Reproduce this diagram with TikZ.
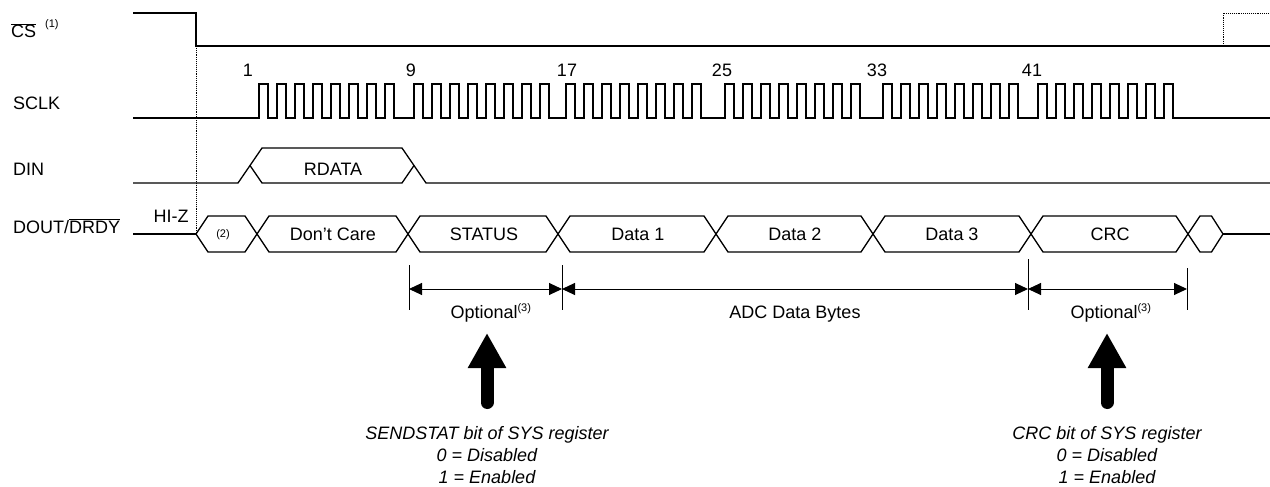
\documentclass[tikz,border=0pt]{standalone}
\usepackage{fontspec}
\setmainfont{Liberation Sans}
\usetikzlibrary{arrows.meta}
\begin{document}
\begin{tikzpicture}[x=1pt,y=-1pt,
  sig/.style={line width=1.3pt, line join=miter},
  lbl/.style={font=\fontsize{18}{22}\selectfont, inner sep=0pt},
  small/.style={font=\fontsize{11}{13}\selectfont, inner sep=0pt},
  note/.style={font=\fontsize{18}{22}\selectfont\itshape, inner sep=0pt, align=center},
  tickline/.style={line width=0.9pt},
  dimline/.style={line width=1pt, {Triangle[length=13pt 0 0,width=12pt 0 0]}-{Triangle[length=13pt 0 0,width=12pt 0 0]}},
  fat/.style={line width=13pt, line cap=round, -{Triangle[length=35pt 0 0,width=36pt 0 0]}},
  dots/.style={line width=0.9pt, densely dotted}]
\useasboundingbox (0,0) rectangle (1270,487);

% ---------- signal names ----------
\node[lbl, anchor=base west] (ncs) at (11,38) {$\overline{\mbox{CS}}$};
\node[small, anchor=base west] (ncsn) at (45,28) {(1)};
\node[lbl, anchor=base west] (nsclk) at (13,110) {SCLK};
\node[lbl, anchor=base west] (ndin) at (13,175) {DIN};
\node[lbl, anchor=base west] (ndout) at (13,233) {DOUT/$\overline{\mbox{DRDY}}$};
\node[lbl, anchor=base] (nhiz) at (171,222) {HI-Z};

% ---------- CS ----------
\draw[sig] (133,13) -- (196,13) -- (196,46) -- (1270,46);
\draw[dots] (1223,46) -- (1223,13) -- (1270,13);
\draw[dots] (196,46) -- (196,234);

% ---------- SCLK ----------
\draw[sig] (133,118) -- (259,118)
  foreach \g in {259,414,566,725,883,1038} {
    foreach \k in {0,...,7} {
      -- (\g+18*\k,118) -- (\g+18*\k,84) -- (\g+18*\k+9,84) -- (\g+18*\k+9,118)
    }
  } -- (1270,118);
\foreach \g/\t in {248/1, 411/9, 567/17, 722/25, 877/33, 1032/41}
  \node[lbl, anchor=base] (clk\t) at (\g,77) {\t};

% ---------- DIN ----------
\draw[sig] (133,183) -- (238,183) -- (262,148) -- (402,148) -- (426,183) -- (1270,183);
\draw[sig] (250,165.5) -- (262,183) -- (402,183) -- (414,165.5);
\node[lbl, anchor=base] (rdata) at (333,175) {RDATA};

% ---------- DOUT ----------
\draw[sig] (133,234) -- (196,234);
\draw[sig] (1223,234) -- (1270,234);
\foreach \a/\b in {196/257, 257/408, 408/558, 558/716, 716/873, 873/1031, 1031/1188}
  \draw[sig] (\a,234) -- (\a+12,216) -- (\b-12,216) -- (\b,234) -- (\b-12,252) -- (\a+12,252) -- cycle;
\draw[sig] (1188,234) -- (1200,216) -- (1211.5,216) -- (1223,234) -- (1211.5,252) -- (1200,252) -- cycle;
\node[small, anchor=center] (b0) at (223,235) {(2)};
\node[lbl, anchor=base] (b1) at (333,240) {Don’t Care};
\node[lbl, anchor=base] (b2) at (484,240) {STATUS};
\node[lbl, anchor=base] (b3) at (638,240) {Data 1};
\node[lbl, anchor=base] (b4) at (795,240) {Data 2};
\node[lbl, anchor=base] (b5) at (952,240) {Data 3};
\node[lbl, anchor=base] (b6) at (1110,240) {CRC};

% ---------- dimension lines ----------
\draw[tickline] (409,265) -- (409,310);
\draw[tickline] (562,265) -- (562,310);
\draw[tickline] (1028,259) -- (1028,310);
\draw[tickline] (1187,268) -- (1187,310);
\coordinate (d1) at (409,289);
\coordinate (d2) at (562,289);
\coordinate (d3) at (1028,289);
\coordinate (d4) at (1187,289);
\draw[dimline] (d1) -- (d2);
\draw[dimline] (d2) -- (d3);
\draw[dimline] (d3) -- (d4);
\node[lbl, anchor=base] (opt1) at (491,318) {Optional\textsuperscript{\fontsize{11}{13}\selectfont(3)}};
\node[lbl, anchor=base] (adc) at (795,318) {ADC Data Bytes};
\node[lbl, anchor=base] (opt2) at (1111,318) {Optional\textsuperscript{\fontsize{11}{13}\selectfont(3)}};

% ---------- notes and thick arrows ----------
\node[note] (n1) at (487,455) {SENDSTAT bit of SYS register\\0 = Disabled\\1 = Enabled};
\node[note] (n2) at (1107,455) {CRC bit of SYS register\\0 = Disabled\\1 = Enabled};
\coordinate (f1s) at (487,402.5);
\coordinate (f1t) at (487,333);
\coordinate (f2s) at (1107,402.5);
\coordinate (f2t) at (1107,333);
\draw[fat] (f1s) -- (f1t);
\draw[fat] (f2s) -- (f2t);
\end{tikzpicture}
\end{document}
